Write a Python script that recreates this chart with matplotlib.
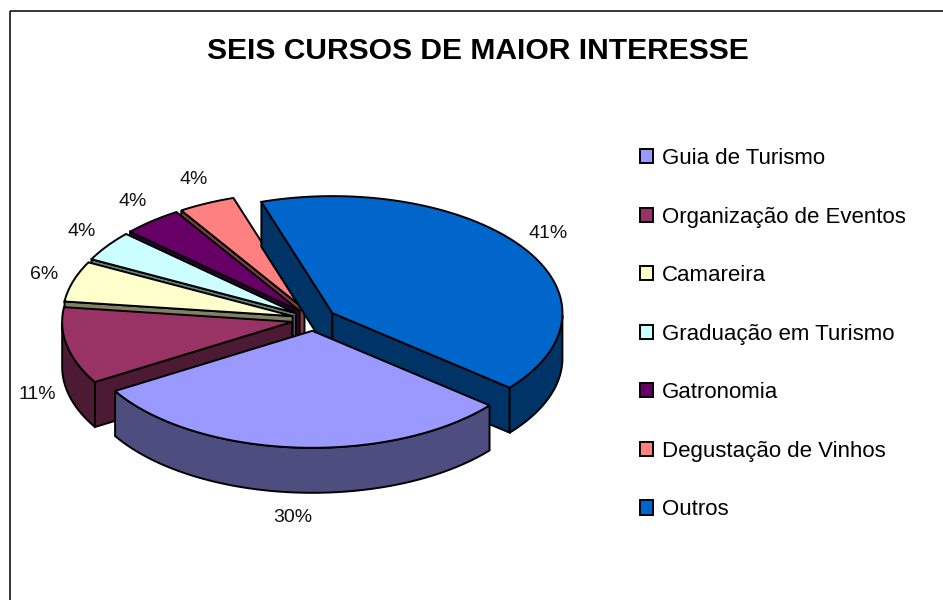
import numpy as np
import matplotlib
matplotlib.use("Agg")
import matplotlib.pyplot as plt
from matplotlib.patches import Patch, Rectangle

plt.rcParams['font.family'] = ['Liberation Sans', 'DejaVu Sans']

titulo = "SEIS CURSOS DE MAIOR INTERESSE"
cursos = ["Guia de Turismo", "Organização de Eventos", "Camareira",
          "Graduação em Turismo", "Gatronomia", "Degustação de Vinhos", "Outros"]
valores = [30.4, 10.6, 5.6, 4.2, 4.2, 4.0, 41.0]
rotulos = ["30%", "11%", "6%", "4%", "4%", "4%", "41%"]
cores = ["#9999FF", "#993366", "#FFFFCC", "#CCFFFF", "#660066", "#FF8080", "#0066CC"]
laterais = ["#4D4D80", "#4D1A33", "#808066", "#668080", "#330033", "#804040", "#003366"]

# geometria da pizza em pixels
cx, cy = 314, 319.5
rx, ry = 230, 117
expl = 0.097
prof = 45
inicio = -39.6
ordem = [5, 4, 3, 2, 1, 6, 0]  # de tras para a frente

fig = plt.figure(figsize=(9.43, 6), dpi=100)
ax = fig.add_axes([0, 0, 1, 1])
ax.set_xlim(0, 943)
ax.set_ylim(600, 0)
ax.axis('off')

ax.add_patch(Rectangle((9.5, 10.5), 1000, 1000, fill=False, ec='black', lw=1.1))

angs = inicio - np.cumsum([0] + [v * 3.6 for v in valores])


def ponto(x0, y0, a, r=1.0):
    t = np.radians(a)
    return x0 + rx * r * np.cos(t), y0 - ry * r * np.sin(t)


def face(xs, ys, cor):
    xs = list(xs) + list(xs)[::-1]
    ys = list(ys) + [y + prof for y in ys][::-1]
    ax.fill(xs, ys, fc=cor, ec='black', lw=1.4, joinstyle='miter')


for i in ordem:
    alto, baixo = angs[i], angs[i + 1]
    meio = (alto + baixo) / 2
    x0, y0 = ponto(cx, cy, meio, expl)

    # paredes dos cortes que ficam de frente
    for a, visivel in ((alto, np.cos(np.radians(alto)) < 0), (baixo, np.cos(np.radians(baixo)) > 0)):
        if visivel:
            xr, yr = ponto(x0, y0, a)
            face([x0, xr], [y0, yr], laterais[i])

    # parede externa, so a parte da frente
    a_rim = np.linspace(alto, baixo, 120)
    frente = a_rim[np.sin(np.radians(a_rim)) <= 0]
    if len(frente) > 1:
        xr, yr = ponto(x0, y0, frente)
        face(xr, yr, laterais[i])

    xr, yr = ponto(x0, y0, a_rim)
    ax.fill(np.r_[x0, xr], np.r_[y0, yr], fc=cores[i], ec='black', lw=1.4, joinstyle='miter')

# rotulos de porcentagem
for i in range(len(valores)):
    meio = (angs[i] + angs[i + 1]) / 2
    t = np.radians(meio)
    lx = cx + rx * 1.23 * np.cos(t)
    ly = cy - ry * 1.33 * np.sin(t)
    if np.sin(t) < 0:
        ly += 42
    ax.text(lx, ly + 1, rotulos[i], ha='center', va='center', fontsize=14, color='#111111')

ax.text(478, 51, titulo, ha='center', va='center', fontsize=21.6, fontweight='bold', color='black')

alcas = [Patch(fc=c, ec='black', lw=1.4) for c in cores]
ax.legend(alcas, cursos, loc='upper left', bbox_to_anchor=(640, 148), bbox_transform=ax.transData,
          frameon=False, fontsize=16, handlelength=0.6, handleheight=0.6, handletextpad=0.39,
          labelspacing=1.69, borderpad=0, borderaxespad=0)

fig.savefig("out.png", dpi=100)
